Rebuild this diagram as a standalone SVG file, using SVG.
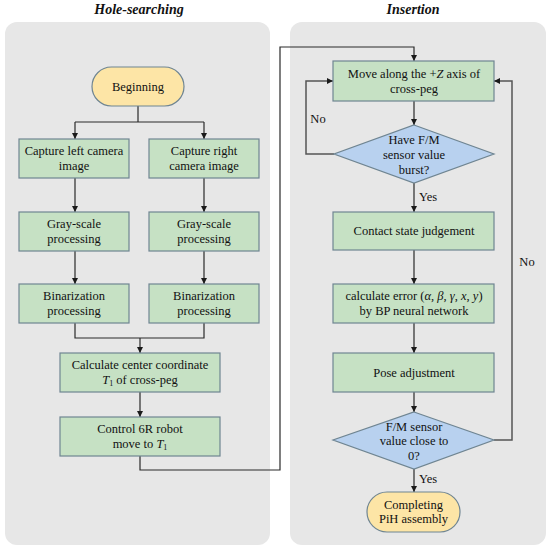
<svg xmlns="http://www.w3.org/2000/svg" width="550" height="550" viewBox="0 0 550 550">
<defs>
<marker id="ah" viewBox="0 0 10 10" refX="10" refY="5" markerWidth="6" markerHeight="6" markerUnits="userSpaceOnUse" orient="auto">
<path d="M0,0 L10,5 L0,10 z" fill="#1a1a1a"/>
</marker>
<style>
.panel{fill:#e7e7e7;stroke:none}
.box{fill:#c6e1c4;stroke:#6f8592;stroke-width:1.2}
.term{fill:#fde5a6;stroke:#6f8592;stroke-width:1.2}
.dec{fill:#b8d1ef;stroke:#6f8592;stroke-width:1.2}
.t{font-size:12.5px;fill:#111;text-anchor:middle}
.title{font-size:14px;font-weight:bold;font-style:italic;fill:#111;text-anchor:middle}
.c{fill:none;stroke:#2a2a2a;stroke-width:1.2}
.c2{fill:none;stroke:#555;stroke-width:1.5}
.i{font-style:italic}
</style>
</defs>
<g font-family="Liberation Serif">
<rect class="panel" x="5" y="22" width="265" height="523" rx="12"/>
<rect class="panel" x="290" y="22" width="256" height="523" rx="12"/>
<text class="title" x="139" y="14">Hole-searching</text>
<text class="title" x="413" y="14">Insertion</text>

<g id="connectors">
<path class="c" d="M138,106 V122 M75,122 H204"/>
<path class="c" d="M75,122 V139" marker-end="url(#ah)"/>
<path class="c" d="M204,122 V139" marker-end="url(#ah)"/>
<path class="c" d="M75,178 V212" marker-end="url(#ah)"/>
<path class="c" d="M204,178 V212" marker-end="url(#ah)"/>
<path class="c" d="M75,251 V284" marker-end="url(#ah)"/>
<path class="c" d="M204,251 V284" marker-end="url(#ah)"/>
<path class="c" d="M75,323 V338 H204 V323"/>
<path class="c" d="M140,338 V353" marker-end="url(#ah)"/>
<path class="c" d="M140,392 V417" marker-end="url(#ah)"/>
<path class="c" d="M140,456 V470 H280 V47 H414 V61" marker-end="url(#ah)"/>
<path class="c" d="M414,101 V125" marker-end="url(#ah)"/>
<path class="c2" d="M334,154 H306 V81 H333" marker-end="url(#ah)"/>
<path class="c" d="M414,183 V212" marker-end="url(#ah)"/>
<path class="c" d="M414,250 V284" marker-end="url(#ah)"/>
<path class="c" d="M414,323 V353" marker-end="url(#ah)"/>
<path class="c" d="M414,392 V412" marker-end="url(#ah)"/>
<path class="c2" d="M494,440 H512 V81 H494" marker-end="url(#ah)"/>
<path class="c" d="M414,469 V492" marker-end="url(#ah)"/>
<text class="t" x="318" y="123">No</text>
<text class="t" x="428" y="201" text-anchor="start">Yes</text>
<text class="t" x="527" y="266">No</text>
<text class="t" x="428" y="483" text-anchor="start">Yes</text>
</g>

<g id="beginning">
<rect class="term" x="92" y="67" width="92" height="39" rx="19.5"/>
<text class="t" x="138" y="90.5">Beginning</text>
</g>
<g id="capture-left">
<rect class="box" x="19" y="139" width="110" height="39"/>
<text class="t" x="74" y="155">Capture left camera</text>
<text class="t" x="74" y="170">image</text>
</g>
<g id="capture-right">
<rect class="box" x="149" y="139" width="110" height="39"/>
<text class="t" x="204" y="155">Capture right</text>
<text class="t" x="204" y="170">camera image</text>
</g>
<g id="gray-left">
<rect class="box" x="19" y="212" width="110" height="39"/>
<text class="t" x="74" y="228">Gray-scale</text>
<text class="t" x="74" y="243">processing</text>
</g>
<g id="gray-right">
<rect class="box" x="149" y="212" width="110" height="39"/>
<text class="t" x="204" y="228">Gray-scale</text>
<text class="t" x="204" y="243">processing</text>
</g>
<g id="bin-left">
<rect class="box" x="19" y="284" width="110" height="39"/>
<text class="t" x="74" y="300">Binarization</text>
<text class="t" x="74" y="315">processing</text>
</g>
<g id="bin-right">
<rect class="box" x="149" y="284" width="110" height="39"/>
<text class="t" x="204" y="300">Binarization</text>
<text class="t" x="204" y="315">processing</text>
</g>
<g id="calc-center">
<rect class="box" x="60" y="353" width="160" height="39"/>
<text class="t" x="140" y="369">Calculate center coordinate</text>
<text class="t" x="140" y="384"><tspan class="i">T</tspan><tspan font-size="8" dy="2">1</tspan><tspan dy="-2"> of cross-peg</tspan></text>
</g>
<g id="control">
<rect class="box" x="60" y="417" width="160" height="39"/>
<text class="t" x="140" y="433">Control 6R robot</text>
<text class="t" x="140" y="448">move to <tspan class="i">T</tspan><tspan font-size="8" dy="2">1</tspan></text>
</g>

<g id="move">
<rect class="box" x="333" y="61" width="161" height="40"/>
<text class="t" x="414" y="77.5">Move along the +<tspan class="i">Z</tspan>  axis of</text>
<text class="t" x="414" y="92.5">cross-peg</text>
</g>
<g id="burst">
<polygon class="dec" points="414,125 494,154 414,183 334,154"/>
<text class="t" x="414" y="144">Have F/M</text>
<text class="t" x="414" y="159">sensor value</text>
<text class="t" x="414" y="174">burst?</text>
</g>
<g id="contact">
<rect class="box" x="333" y="212" width="161" height="38"/>
<text class="t" x="414" y="235">Contact state judgement</text>
</g>
<g id="calc-error">
<rect class="box" x="333" y="284" width="161" height="39"/>
<text class="t" x="414" y="300">calculate error (<tspan class="i">&#945;</tspan>, <tspan class="i">&#946;</tspan>, <tspan class="i">&#947;</tspan>, <tspan class="i">x</tspan>, <tspan class="i">y</tspan>)</text>
<text class="t" x="414" y="315">by BP neural network</text>
</g>
<g id="pose">
<rect class="box" x="333" y="353" width="161" height="39"/>
<text class="t" x="414" y="377">Pose adjustment</text>
</g>
<g id="close">
<polygon class="dec" points="414,412 494,440 414,469 333,440"/>
<text class="t" x="414" y="431">F/M sensor</text>
<text class="t" x="414" y="445">value close to</text>
<text class="t" x="414" y="460">0?</text>
</g>
<g id="completing">
<rect class="term" x="367" y="492" width="93" height="40" rx="20"/>
<text class="t" x="413.5" y="509">Completing</text>
<text class="t" x="413.5" y="523">PiH assembly</text>
</g>
</g>
</svg>
